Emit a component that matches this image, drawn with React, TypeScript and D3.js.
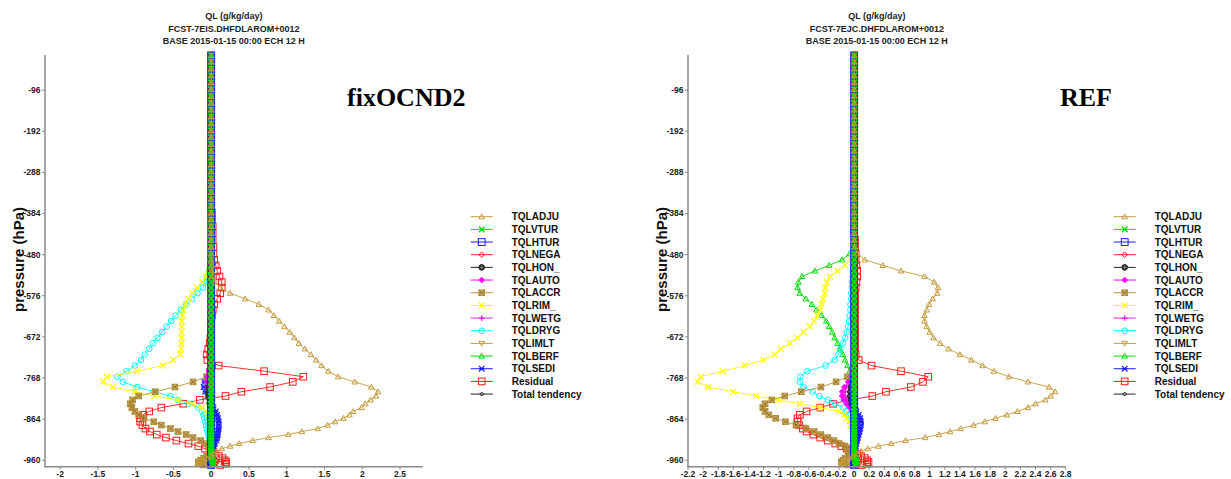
import React from "react";
import * as d3 from "d3";

// ---------------- data ----------------
const LEVELS = [
  -15, -30, -46, -62, -78, -94, -110, -126, -142, -158, -174, -190, -206, -222, -238,
  -254, -270, -286, -302, -318, -334, -350, -366, -382, -398, -414, -430, -446, -462, -478,
  -492, -505, -518, -531, -544, -557, -570, -583, -596, -609, -622, -635, -648, -661, -674,
  -687, -700, -713, -726, -739, -752, -765, -777, -789, -800,
  -810, -819, -828, -837, -846, -854, -862, -870, -878, -886, -893, -900, -907, -914, -921,
  -927, -933, -939, -945, -950, -955, -960, -964, -968, -971,
];

const SERIES_NAMES = [
  "TQLADJU", "TQLVTUR", "TQLHTUR", "TQLNEGA", "TQLHON_", "TQLAUTO", "TQLACCR", "TQLRIM_",
  "TQLWETG", "TQLDRYG", "TQLIMLT", "TQLBERF", "TQLSEDI", "Residual", "Total tendency",
];

const Y_TICKS = [-96, -192, -288, -384, -480, -576, -672, -768, -864, -960];
const X_TICKS_FIX = [-2, -1.5, -1, -0.5, 0, 0.5, 1, 1.5, 2, 2.5];
const X_TICKS_REF = [-2.2, -2, -1.8, -1.6, -1.4, -1.2, -1, -0.8, -0.6, -0.4, -0.2, 0, 0.2, 0.4, 0.6, 0.8, 1, 1.2, 1.4, 1.6, 1.8, 2, 2.2, 2.4, 2.6, 2.8];
const X_DOMAIN = [-2.2, 2.8];
const P_DOMAIN = [-14, -975];

const TITLE_FIX = ["QL (g/kg/day)", "FCST-7EIS.DHFDLAROM+0012", "BASE 2015-01-15 00:00 ECH 12 H"];
const TITLE_REF = ["QL (g/kg/day)", "FCST-7EJC.DHFDLAROM+0012", "BASE 2015-01-15 00:00 ECH 12 H"];

// ---- fixOCND2 panel (values at LEVELS, upper 30 / middle 25 / lower 25) ----
const fix_TQLADJU = [
  0,0,0,0,0,0,0,0,0,0,0,0,0,0,0,0,0,0,0,0,0,0,0,0,0,0,0,0,0,0,
  0,0.01,0.01,0.02,0.05,0.12,0.25,0.45,0.63,0.76,0.83,0.90,0.97,1.04,1.10,1.16,1.24,1.32,1.39,1.46,1.55,1.68,1.90,2.12,2.21,
  2.18,2.11,2.04,1.99,1.88,1.83,1.75,1.64,1.54,1.41,1.20,1.02,0.76,0.55,0.37,0.25,0.14,0.07,0.03,0,-0.06,-0.12,-0.16,-0.18,-0.10,
];
const fix_TQLVTUR = [
  0,0,0,0,0,0,0,0,0,0,0,0,0,0,0,0,0,0,0,0,0,0,0,0,0,0,0,0,0,0,
  0,0,0,0,0,0,0,0,0,0,0,0,0,0,0,0,0,0,0,0,0,0,0,0,0,
  0,0,0,0,0,0,0,0,0,0,0,0,0,0,0,0,0,0,0,0,0.01,0.02,0.03,0.02,0.01,
];
const fix_TQLHTUR = [
  0,0,0,0,0,0,0,0,0,0,0,0,0,0,0,0,0,0,0,0,0,0,0,0,0,0,0,0,0,0,
  0,0,0,0,0,0,0,0,0,0,0,0,0,0,0,0,0,0,0,0,0,0,0,0,0,
  0,0,0,0,0,0,0,0,0,0,0,0,0,0,0,0,0,0,0,0,0,0,0,0,0,
];
const fix_TQLNEGA = [
  0,0,0,0,0,0,0,0,0,0,0,0,0,0,0,0,0,0,0,0,0,0,0,0,0,0,0,0,0,0,
  0,0,0,0,0,0,0,0,0,0,0,0,0,0,0,0,0,0,0,0,0,0,0,0,0,
  0,0,0,0,0,0,0,0,0,0,0,0,0,0,0,0,0,0,0,0.02,0.04,0.06,0.07,0.06,0.04,
];
const fix_TQLHON_ = [
  0,0,0,0,0,0,0,0,0,0,0,0,0,0,0,0,0,0,0,0,0,0,0,0,0,0,0,0,0,0,
  0,0,0,0,0,0,0,0,0,0,0,0,0,0,0,0,0,0,0,0,0,-0.01,-0.02,-0.03,-0.03,
  -0.03,-0.02,-0.02,-0.01,0,0,0,0,0,0,0,0,0,0,0,0,0,0,0,0,0,0,0,0,0,
];
const fix_TQLAUTO = [
  0,0,0,0,0,0,0,0,0,0,0,0,0,0,0,0,0,0,0,0,0,0,0,0,0,0,0,0,0,0,
  0,0,0,0,0,0,0,0,0,0,0,0,0,0,0,0,0,0,0,-0.01,-0.03,-0.05,-0.06,-0.05,-0.03,
  -0.02,-0.01,0,0,0,0,0,0,0,0,0,0,0,0,0,0,0,0,0,0,0,0,0,0,0,
];
const fix_TQLACCR = [
  0,0,0,0,0,0,0,0,0,0,0,0,0,0,0,0,0,0,0,0,0,0,0,0,0,0,0,0,0,0,
  0,0,0,0,0,0,0,0,0,0,0,0,0,0,0,0,0,0,0,-0.01,-0.02,-0.06,-0.24,-0.48,-0.74,
  -0.96,-1.04,-1.07,-1.05,-1.01,-0.96,-0.89,-0.76,-0.66,-0.54,-0.44,-0.33,-0.24,-0.14,-0.07,-0.04,-0.02,-0.01,-0.03,-0.06,-0.10,-0.14,-0.17,-0.15,-0.10,
];
const fix_TQLRIM_ = [
  0,0,0,0,0,0,0,0,0,0,0,0,0,0,0,0,0,0,0,0,0,0,0,0,0,0,0,0,0,0,
  0,-0.01,-0.03,-0.07,-0.12,-0.19,-0.25,-0.30,-0.34,-0.37,-0.38,-0.39,-0.39,-0.39,-0.39,-0.39,-0.40,-0.41,-0.50,-0.64,-0.98,-1.38,-1.43,-1.30,-1.01,
  -0.75,-0.45,-0.25,-0.12,-0.06,-0.03,-0.02,-0.01,0,0,0,0,0,0,0,0,0,0,0,0,0,0,0,0,0,
];
const fix_TQLWETG = [
  0,0,0,0,0,0,0,0,0,0,0,0,0,0,0,0,0,0,0,0,0,0,0,0,0,0,0,0,0,0,
  0,0,0,0,0,0,0,0,0,0,0,0,0,0,0,0,0,0,0,0,-0.02,-0.04,-0.05,-0.04,-0.02,
  -0.01,0,0,0,0,0,0,0,0,0,0,0,0,0,0,0,0,0,0,0,0,0,0,0,0,
];
const fix_TQLDRYG = [
  0,0,0,0,0,0,0,0,0,0,0,0,0,0,0,0,0,0,0,0,0,0,0,0,0,0,0,0,0,0,
  0,-0.01,-0.03,-0.05,-0.06,-0.11,-0.18,-0.25,-0.33,-0.40,-0.47,-0.53,-0.59,-0.65,-0.71,-0.77,-0.82,-0.88,-0.93,-1.01,-1.12,-1.24,-1.17,-0.98,-0.76,
  -0.54,-0.44,-0.30,-0.17,-0.12,-0.10,-0.09,-0.08,-0.07,-0.06,-0.05,-0.04,-0.03,-0.02,-0.01,0,0,0,0,0,0,0,0,0,0,
];
const fix_TQLIMLT = [
  0,0,0,0,0,0,0,0,0,0,0,0,0,0,0,0,0,0,0,0,0,0,0,0,0,0,0,0,0,0,
  0,0,0,0,0,0,0,0,0,0,0,0,0,0,0,0,0,0,0,0,0,0,0,0,0,
  0,0,0,0,0,0,0,0,0,0,0,0,0,0,0,0,0,0,0,0,-0.02,-0.06,-0.10,-0.14,-0.12,
];
const fix_TQLBERF = [
  0,0,0,0,0,0,0,0,0,0,0,0,0,0,0,0,0,0,0,0,0,0,0,0,0,0,0,0,0,0,
  0,0,0,0,0,0,0,0,0,0,0,0,0,0,0,0,0,0,0,0,0,0,0,0,0,
  0,0,0,0,0,0,0,0,0,0,0,0,0,0,0,0,0,0,0,0,0,0,0,0,0,
];
const fix_TQLSEDI = [
  0,0,0,0,0,0,0,0,0,0,0,0,0,0,0,0,0,0,0,0,0,0,0,0,0,0,0,0,0,0,
  0,0,0,0,0,0,0,0,0,0,0,0,0,0,0,0,0,0,0,-0.01,-0.03,-0.06,-0.09,-0.10,-0.08,
  -0.05,-0.02,0,0.03,0.06,0.08,0.09,0.10,0.10,0.10,0.09,0.09,0.08,0.07,0.05,0.04,0.03,0.02,0.01,0,0,0,0,0,0,
];
const fix_Residual = [
  0,0,0,0,0,0,0,0,0,0,0,0,0,0,0,0,0,0,0,0,0,0,0,0.01,0.01,0.02,0.02,0.02,0.03,0.03,
  0.04,0.06,0.08,0.11,0.14,0.14,0.12,0.08,0.04,0.02,0.01,0,0,0,-0.01,-0.02,-0.04,-0.06,-0.05,0.10,0.70,1.22,1.08,0.78,0.40,
  0.19,-0.15,-0.37,-0.66,-0.82,-0.90,-0.94,-0.94,-0.91,-0.87,-0.81,-0.72,-0.60,-0.46,-0.30,-0.17,-0.08,-0.01,0.05,0.10,0.15,0.18,0.20,0.19,0.12,
];
const fix_Total = [
  0,0,0,0,0,0,0,0,0,0,0,0,0,0,0,0,0,0,0,0,0,0,0,0,0,0,0,0,0,0,
  0,0,0,0,0,0,0,0,0,0,0,0,0,0,0,0,0,0,0,0,0,-0.01,-0.02,-0.02,-0.02,
  -0.02,-0.02,-0.01,-0.01,0,0,0,0,0,0,0,0,0,0,0,0,0,0,0,0,0,0,0,0,0,
];

// ---- REF panel ----
const ref_TQLADJU = [
  0,0,0,0,0,0,0,0,0,0,0,0,0,0,0,0,0,0,0,0,0,0,0,0,0,0,0,0,0.01,0.04,
  0.14,0.38,0.62,0.93,1.06,1.11,1.10,1.04,0.99,0.96,0.93,0.93,0.96,1.00,1.05,1.14,1.25,1.40,1.55,1.70,1.85,2.05,2.30,2.58,2.66,
  2.60,2.53,2.40,2.30,2.16,2.02,1.87,1.73,1.58,1.41,1.27,1.12,0.94,0.68,0.49,0.32,0.18,0.09,0.04,-0.02,-0.07,-0.12,-0.16,-0.17,-0.10,
];
const ref_TQLVTUR = [
  0,0,0,0,0,0,0,0,0,0,0,0,0,0,0,0,0,0,0,0,0,0,0,0,0,0,0,0,0,0,
  0,0,0,0,0,0,0,0,0,0,0,0,0,0,0,0,0,0,0,0,0,0,0,0,0,
  0,0,0,0,0,0,0,0,0,0,0,0,0,0,0,0,0,0,0,0,0.01,0.02,0.03,0.02,0.01,
];
const ref_TQLHTUR = [
  0,0,0,0,0,0,0,0,0,0,0,0,0,0,0,0,0,0,0,0,0,0,0,0,0,0,0,0,0,0,
  0,0,0,0,0,0,0,0,0,0,0,0,0,0,0,0,0,0,0,0,0,0,0,0,0,
  0,0,0,0,0,0,0,0,0,0,0,0,0,0,0,0,0,0,0,0,0,0,0,0,0,
];
const ref_TQLNEGA = [
  0,0,0,0,0,0,0,0,0,0,0,0,0,0,0,0,0,0,0,0,0,0,0,0,0,0,0,0,0,0,
  0,0,0,0,0,0,0,0,0,0,0,0,0,0,0,0,0,0,0,0,0,0,0,0,0,
  0,0,0,0,0,0,0,0,0,0,0,0,0,0,0,0,0,0,0,0.02,0.04,0.06,0.07,0.06,0.04,
];
const ref_TQLHON_ = [
  0,0,0,0,0,0,0,0,0,0,0,0,0,0,0,0,0,0,0,0,0,0,0,0,0,0,0,0,0,0,
  0,0,0,0,0,0,0,0,0,0,0,0,0,0,0,0,0,0,0,0,0,-0.01,-0.02,-0.04,-0.05,
  -0.05,-0.04,-0.03,-0.01,0,0,0,0,0,0,0,0,0,0,0,0,0,0,0,0,0,0,0,0,0,
];
const ref_TQLAUTO = [
  0,0,0,0,0,0,0,0,0,0,0,0,0,0,0,0,0,0,0,0,0,0,0,0,0,0,0,0,0,0,
  0,0,0,0,0,0,0,0,0,0,0,0,0,0,0,0,0,0,0,0,-0.01,-0.03,-0.08,-0.13,-0.16,
  -0.16,-0.14,-0.10,-0.06,-0.03,-0.01,0,0,0,0,0,0,0,0,0,0,0,0,0,0,0,0,0,0,0,
];
const ref_TQLACCR = [
  0,0,0,0,0,0,0,0,0,0,0,0,0,0,0,0,0,0,0,0,0,0,0,0,0,0,0,0,0,0,
  0,0,0,0,0,0,0,0,0,0,0,0,0,0,0,0,0,0,0,0,-0.03,-0.09,-0.24,-0.44,-0.70,
  -0.92,-1.09,-1.18,-1.21,-1.18,-1.13,-1.04,-0.91,-0.77,-0.64,-0.53,-0.44,-0.35,-0.27,-0.20,-0.12,-0.09,-0.07,-0.05,-0.08,-0.12,-0.15,-0.17,-0.14,-0.08,
];
const ref_TQLRIM_ = [
  0,0,0,0,0,0,0,0,0,0,0,0,0,0,0,0,0,0,0,0,0,0,0,0,0,0,0,0,0,-0.01,
  -0.05,-0.12,-0.22,-0.32,-0.36,-0.38,-0.39,-0.41,-0.43,-0.45,-0.49,-0.53,-0.59,-0.67,-0.75,-0.85,-0.97,-1.05,-1.20,-1.45,-1.74,-2.03,-2.07,-1.93,-1.60,
  -1.30,-1.00,-0.72,-0.45,-0.20,-0.13,-0.10,-0.07,-0.05,-0.03,-0.02,-0.01,0,0,0,0,0,0,0,0,0,0,0,0,0,
];
const ref_TQLWETG = [
  0,0,0,0,0,0,0,0,0,0,0,0,0,0,0,0,0,0,0,0,0,0,0,0,0,0,0,0,0,0,
  0,0,0,0,0,0,0,0,0,0,0,0,0,0,0,0,0,0,0,0,0,-0.02,-0.06,-0.10,-0.12,
  -0.12,-0.10,-0.07,-0.04,-0.02,0,0,0,0,0,0,0,0,0,0,0,0,0,0,0,0,0,0,0,0,
];
const ref_TQLDRYG = [
  0,0,0,0,0,0,0,0,0,0,0,0,0,0,0,0,0,0,0,0,0,0,0,0,0,0,0,0,0,0,
  0,-0.01,-0.02,-0.02,-0.03,-0.03,-0.04,-0.04,-0.05,-0.05,-0.06,-0.07,-0.08,-0.10,-0.12,-0.15,-0.18,-0.21,-0.26,-0.38,-0.62,-0.71,-0.72,-0.67,-0.55,
  -0.46,-0.35,-0.25,-0.15,-0.10,-0.08,-0.06,-0.04,-0.03,-0.02,-0.01,0,0,0,0,0,0,0,0,0,0,0,0,0,0,
];
const ref_TQLIMLT = [
  0,0,0,0,0,0,0,0,0,0,0,0,0,0,0,0,0,0,0,0,0,0,0,0,0,0,0,0,0,0,
  0,0,0,0,0,0,0,0,0,0,0,0,0,0,0,0,0,0,0,0,0,0,0,0,0,
  0,0,0,0,0,0,0,0,0,0,0,0,0,0,0,0,0,0,0,0,-0.02,-0.06,-0.10,-0.14,-0.12,
];
const ref_TQLBERF = [
  0,0,0,0,0,0,0,0,0,0,0,0,0,0,0,0,0,0,0,0,0,0,0,0,0,0,0,0,-0.01,-0.06,
  -0.16,-0.33,-0.52,-0.69,-0.74,-0.75,-0.72,-0.64,-0.56,-0.50,-0.43,-0.37,-0.33,-0.29,-0.26,-0.22,-0.19,-0.15,-0.12,-0.09,-0.06,-0.04,-0.02,0,0,
  0,0,0,0,0,0,0,0,0,0,0,0,0,0,0,0,0,0,0,0,0,0,0,0,0,
];
const ref_TQLSEDI = [
  0,0,0,0,0,0,0,0,0,0,0,0,0,0,0,0,0,0,0,0,0,0,0,0,0,0,0,0,0,0,
  0,0,0,0,0,0,0,0,0,0,0,0,0,0,0,0,0,0,0,0,0,0,0,-0.02,-0.03,
  -0.02,-0.01,0,0.01,0.03,0.06,0.08,0.09,0.09,0.08,0.07,0.06,0.05,0.04,0.03,0.02,0.01,0,0,0,0,0,0,0,0,
];
const ref_Residual = [
  0,0,0,0,0,0,0,0,0,0,0,0,0,0,0,0,0,0,0,0,0,0,0,0,0,0,0,0.01,0.01,0.02,
  0.02,0.03,0.04,0.04,0.03,0.02,0.01,0.01,0.01,0.01,0.01,0.01,0.01,0.01,0.01,0.01,0.01,0.02,0.06,0.23,0.62,0.98,0.91,0.75,0.42,
  0.24,-0.05,-0.28,-0.45,-0.63,-0.72,-0.75,-0.75,-0.73,-0.68,-0.63,-0.54,-0.45,-0.35,-0.25,-0.17,-0.10,-0.03,0.04,0.09,0.14,0.17,0.19,0.17,0.10,
];
const ref_Total = [
  0,0,0,0,0,0,0,0,0,0,0,0,0,0,0,0,0,0,0,0,0,0,0,0,0,0,0,0,0,0,
  0,0,0,0,0,0,0,0,0,0,0,0,0,0,0,0,0,0,0,0,0,-0.01,-0.02,-0.03,-0.03,
  -0.03,-0.02,-0.01,0,0,0,0,0,0,0,0,0,0,0,0,0,0,0,0,0,0,0,0,0,0,
];

const FIX_VALUES = [
  fix_TQLADJU, fix_TQLVTUR, fix_TQLHTUR, fix_TQLNEGA, fix_TQLHON_, fix_TQLAUTO, fix_TQLACCR, fix_TQLRIM_,
  fix_TQLWETG, fix_TQLDRYG, fix_TQLIMLT, fix_TQLBERF, fix_TQLSEDI, fix_Residual, fix_Total,
];
const REF_VALUES = [
  ref_TQLADJU, ref_TQLVTUR, ref_TQLHTUR, ref_TQLNEGA, ref_TQLHON_, ref_TQLAUTO, ref_TQLACCR, ref_TQLRIM_,
  ref_TQLWETG, ref_TQLDRYG, ref_TQLIMLT, ref_TQLBERF, ref_TQLSEDI, ref_Residual, ref_Total,
];

// ---------------- styles ----------------
const STYLES = [
  { color: "#c49a3a", marker: "tri" },
  { color: "#00dd00", marker: "xBold" },
  { color: "#1a1aff", marker: "sq" },
  { color: "#ff2020", marker: "dia" },
  { color: "#222222", marker: "circplus" },
  { color: "#ff00ff", marker: "diaFill" },
  { color: "#b8923a", marker: "sqx" },
  { color: "#ffff00", marker: "x" },
  { color: "#e020e0", marker: "plus" },
  { color: "#00ffff", marker: "circ" },
  { color: "#c49a3a", marker: "triDown" },
  { color: "#00dd00", marker: "tri" },
  { color: "#1a1aff", marker: "xbar" },
  { color: "#ff1a1a", marker: "sqBig" },
  { color: "#222222", marker: "diaSmall" },
];

function Marker({ kind, color, x, y }: { kind: string; color: string; x: number; y: number }) {
  const r = 2.8;
  const t = `translate(${x},${y})`;
  const s = { stroke: color, strokeWidth: 1, fill: "none" };
  switch (kind) {
    case "tri":
      return <path transform={t} d={`M0,${-r}L${r},${r * 0.75}L${-r},${r * 0.75}Z`} {...s} />;
    case "triDown":
      return <path transform={t} d={`M0,${r}L${r},${-r * 0.75}L${-r},${-r * 0.75}Z`} {...s} />;
    case "x":
      return <path transform={t} d={`M${-r},${-r}L${r},${r}M${-r},${r}L${r},${-r}`} {...s} strokeWidth={1.3} />;
    case "xBold":
      return <path transform={t} d={`M${-r},${-r}L${r},${r}M${-r},${r}L${r},${-r}`} {...s} strokeWidth={2} />;
    case "xbar":
      return <path transform={t} d={`M${-r},${-r}L${r},${r}M${-r},${r}L${r},${-r}M${-r},0L${r},0`} {...s} strokeWidth={1.2} />;
    case "plus":
      return <path transform={t} d={`M${-r},0L${r},0M0,${-r}L0,${r}`} {...s} strokeWidth={1.3} />;
    case "sq":
      return <rect transform={t} x={-3.4} y={-3.4} width={6.8} height={6.8} {...s} />;
    case "sqBig":
      return <rect transform={t} x={-3.3} y={-3.3} width={6.6} height={6.6} {...s} />;
    case "sqx":
      return (
        <g transform={t}>
          <rect x={-r} y={-r} width={r * 2} height={r * 2} fill={color} fillOpacity={0.75} stroke={color} />
          <path d={`M${-r},${-r}L${r},${r}M${-r},${r}L${r},${-r}`} stroke="#8a6a20" strokeWidth={0.8} />
        </g>
      );
    case "dia":
      return <path transform={t} d={`M0,${-r}L${r},0L0,${r}L${-r},0Z`} {...s} />;
    case "diaFill":
      return <path transform={t} d={`M0,${-r}L${r},0L0,${r}L${-r},0Z`} fill={color} stroke={color} />;
    case "diaSmall":
      return <path transform={t} d={`M0,-2L2,0L0,2L-2,0Z`} {...s} />;
    case "circ":
      return <circle transform={t} r={r} {...s} />;
    case "circplus":
      return (
        <g transform={t}>
          <circle r={r} fill={color} stroke={color} />
          <path d={`M${-r + 0.8},0L${r - 0.8},0M0,${-r + 0.8}L0,${r - 0.8}`} stroke="#999" strokeWidth={0.8} />
        </g>
      );
    default:
      return null;
  }
}

const FONT = "'Liberation Sans', Arial, Helvetica, sans-serif";

function Panel({ ox, values, xTicks, title, label }: { ox: number; values: number[][]; xTicks: number[]; title: string[]; label: string }) {
  const x = d3.scaleLinear().domain(X_DOMAIN).range([45 + ox, 422.7 + ox]);
  const y = d3.scaleLinear().domain(P_DOMAIN).range([55, 466.7]);
  const [x0, x1] = x.range();
  const [y0, y1] = y.range();
  const cx = (x0 + x1) / 2;
  const fmt = (v: number) => String(+v.toFixed(2));
  const line = d3.line<[number, number]>().x((d) => x(d[0])).y((d) => y(d[1]));
  // drawn last-to-first so that the first legend entries end up on top
  const order = values.map((_, i) => i).reverse();

  return (
    <g>
      {title.map((t, i) => (
        <text key={i} x={cx} y={19 + i * 12.6} textAnchor="middle" fontFamily={FONT} fontWeight="bold" fontSize={9} fill="#222">
          {t}
        </text>
      ))}
      <text
        transform={`translate(${ox + 24},259.5) rotate(-90)`}
        textAnchor="middle"
        fontFamily={FONT}
        fontWeight="bold"
        fontSize={15}
        fill="#111"
      >
        pressure (hPa)
      </text>
      <text x={label === "REF" ? 1060 : 347} y={106} fontFamily="'Liberation Serif', 'Times New Roman', serif" fontWeight="bold" fontSize={26} fill="#000">
        {label}
      </text>

      {/* series */}
      {order.map((si) => {
        const st = STYLES[si];
        const pts = values[si].map((v, i) => [v, LEVELS[i]] as [number, number]);
        return (
          <g key={si}>
            <path d={line(pts) || ""} fill="none" stroke={st.color} strokeWidth={0.9} />
            {pts.map((d, i) => (
              <Marker key={i} kind={st.marker} color={st.color} x={x(d[0])} y={y(d[1])} />
            ))}
          </g>
        );
      })}

      {/* axes */}
      <line x1={x0} y1={y0} x2={x0} y2={y1 + 0.7} stroke="#8a8a8a" strokeWidth={1.5} />
      <line x1={x0} y1={y1} x2={x1} y2={y1} stroke="#8a8a8a" strokeWidth={1.5} />
      {Y_TICKS.map((p) => (
        <g key={p}>
          <line x1={x0 - 3} x2={x0} y1={y(p)} y2={y(p)} stroke="#8a8a8a" strokeWidth={1} />
          <text x={x0 - 4.5} y={y(p)} dy="0.35em" textAnchor="end" fontFamily={FONT} fontWeight="bold" fontSize={8.5} fill="#222">
            {p}
          </text>
        </g>
      ))}
      {xTicks.map((v) => (
        <g key={v}>
          <line x1={x(v)} x2={x(v)} y1={y1} y2={y1 + 3} stroke="#8a8a8a" strokeWidth={1} />
          <text x={x(v)} y={474} dy="0.35em" textAnchor="middle" fontFamily={FONT} fontWeight="bold" fontSize={8.5} fill="#222">
            {fmt(v)}
          </text>
        </g>
      ))}

      {/* legend */}
      {SERIES_NAMES.map((name, i) => {
        const st = STYLES[i];
        const ly = 216.7 + i * 12.67;
        return (
          <g key={name}>
            <line x1={470.7 + ox} x2={492.7 + ox} y1={ly} y2={ly} stroke={st.color} strokeWidth={1} />
            <Marker kind={st.marker === "xBold" ? "x" : st.marker} color={st.color} x={481.7 + ox} y={ly} />
            <text x={511.7 + ox} y={ly} dy="0.35em" fontFamily={FONT} fontWeight="bold" fontSize={10} fill="#111">
              {name}
            </text>
          </g>
        );
      })}
    </g>
  );
}

export default function App() {
  return (
    <svg width={1231} height={479} style={{ position: "absolute", left: 0, top: 0, background: "#fff" }}>
      <rect width={1231} height={479} fill="#fff" />
      <Panel ox={0} values={FIX_VALUES} xTicks={X_TICKS_FIX} title={TITLE_FIX} label="fixOCND2" />
      <Panel ox={643} values={REF_VALUES} xTicks={X_TICKS_REF} title={TITLE_REF} label="REF" />
    </svg>
  );
}
